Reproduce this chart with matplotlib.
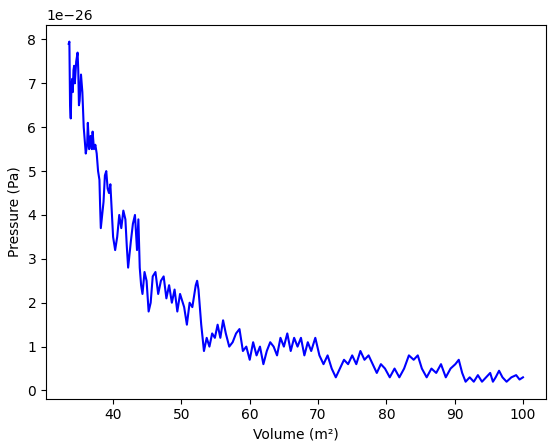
import matplotlib
matplotlib.use("Agg")
import matplotlib.pyplot as plt

volume = [33.5,33.6,33.7,33.8,33.9,34.0,34.1,34.2,34.3,34.4,34.6,34.8,34.9,35.0,35.1,35.3,35.5,35.7,36.0,36.2,36.3,36.5,36.7,36.9,37.0,37.2,37.4,37.6,37.8,38.0,38.1,38.2,38.4,38.6,38.8,39.0,39.2,39.4,39.6,39.8,40.0,40.3,40.6,40.9,41.2,41.5,41.8,42.0,42.2,42.6,42.9,43.2,43.5,43.7,43.9,44.1,44.3,44.6,44.9,45.2,45.5,45.8,46.2,46.6,47.0,47.4,47.8,48.2,48.6,49.0,49.4,49.8,50.0,50.4,50.8,51.2,51.6,51.9,52.1,52.3,52.5,52.9,53.3,53.7,54.1,54.5,54.9,55.3,55.7,56.1,56.5,57.0,57.5,58.0,58.5,59.0,59.5,60.0,60.5,61.0,61.5,62.0,62.5,63.0,63.5,64.0,64.5,65.0,65.5,66.0,66.5,67.0,67.5,68.0,68.5,69.0,69.6,70.2,70.8,71.4,72.0,72.6,73.2,73.8,74.4,75.0,75.6,76.2,76.8,77.4,78.0,78.6,79.2,79.8,80.5,81.2,81.9,82.6,83.3,84.0,84.6,85.2,85.9,86.6,87.3,88.0,88.7,89.4,90.1,90.6,91.1,91.6,92.2,92.8,93.4,94.0,94.6,95.2,95.6,96.0,96.5,97.0,97.6,98.3,99.0,99.5,100.0]
pressure = [7.9,7.95,6.5,6.2,6.9,7.1,6.8,7.3,7.4,7.0,7.5,7.7,7.3,6.5,6.6,7.2,6.8,6.0,5.4,5.6,6.1,5.5,5.8,5.5,5.9,5.5,5.6,5.4,5.0,4.8,4.2,3.7,4.0,4.3,4.9,5.0,4.6,4.5,4.7,4.1,3.5,3.2,3.5,4.0,3.7,4.1,3.9,3.3,2.8,3.4,3.8,4.0,3.2,3.9,2.8,2.4,2.2,2.7,2.5,1.8,2.0,2.6,2.7,2.2,2.5,2.6,2.1,2.4,2.0,2.3,1.8,2.2,2.1,1.9,1.5,2.0,1.9,2.2,2.4,2.5,2.3,1.5,0.9,1.2,1.0,1.3,1.2,1.5,1.2,1.6,1.3,1.0,1.1,1.3,1.4,0.9,1.0,0.7,1.1,0.8,1.0,0.6,0.9,1.1,1.0,0.8,1.2,1.0,1.3,0.9,1.2,1.0,1.2,0.8,1.1,0.9,1.2,0.8,0.6,0.8,0.5,0.3,0.5,0.7,0.6,0.8,0.6,0.9,0.7,0.8,0.6,0.4,0.6,0.5,0.3,0.5,0.3,0.5,0.8,0.7,0.8,0.5,0.3,0.5,0.4,0.6,0.3,0.5,0.6,0.7,0.4,0.2,0.3,0.2,0.35,0.2,0.3,0.4,0.2,0.3,0.45,0.3,0.2,0.3,0.35,0.25,0.3,0.35,0.5,0.7,0.5,0.3,0.35,0.2,0.1,0.0]

n = min(len(volume), len(pressure))
x = volume[:n]
y = [p * 1e-26 for p in pressure[:n]]

fig, ax = plt.subplots(figsize=(5.54, 4.48), dpi=100)
ax.plot(x, y, color='blue')
ax.set_xlabel('Volume (m²)')
ax.set_ylabel('Pressure (Pa)')
fig.subplots_adjust(left=0.083, right=0.985, top=0.945, bottom=0.11)
fig.savefig('out.png', dpi=100)
